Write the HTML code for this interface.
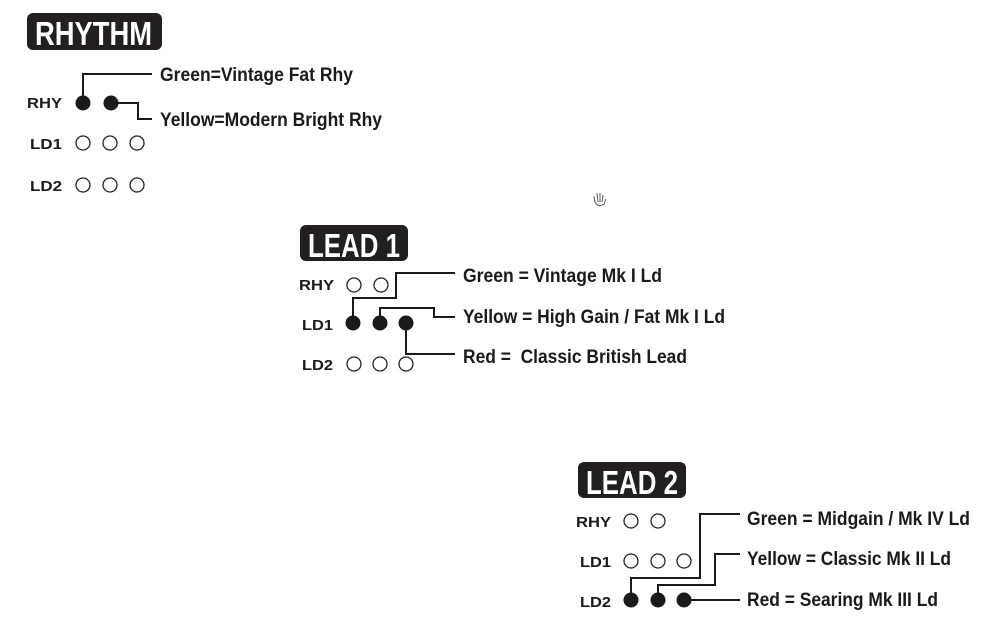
<!DOCTYPE html>
<html><head><meta charset="utf-8"><style>
html,body{margin:0;padding:0;background:#fff;}
svg{display:block;}
text{font-family:"Liberation Sans",sans-serif;font-weight:bold;fill:#1a1a1a;}
.b{fill:#fff;font-size:33px;}
.l{font-size:15px;}
.t{font-size:19px;}
.o{fill:#fff;stroke:#222;stroke-width:1.3;}
.f{fill:#1a1a1a;}
.w{fill:none;stroke:#1a1a1a;stroke-width:2;}
</style></head><body>
<svg width="1000" height="636" viewBox="0 0 1000 636" xmlns="http://www.w3.org/2000/svg">
<!-- RHYTHM -->
<rect x="27" y="13" width="135" height="37" rx="6" fill="#231f20"/>
<text class="b" x="35" y="45" textLength="117" lengthAdjust="spacingAndGlyphs">RHYTHM</text>
<text class="l" x="27" y="108" textLength="35" lengthAdjust="spacingAndGlyphs">RHY</text>
<text class="l" x="30" y="149" textLength="32" lengthAdjust="spacingAndGlyphs">LD1</text>
<text class="l" x="30" y="191" textLength="32" lengthAdjust="spacingAndGlyphs">LD2</text>
<path class="w" d="M83 103 V74 H152"/>
<path class="w" d="M111 103 H138 V119 H152"/>
<circle class="f" cx="83" cy="103" r="7.5"/>
<circle class="f" cx="111" cy="103" r="7.5"/>
<circle class="o" cx="83" cy="143" r="7"/><circle class="o" cx="110" cy="143" r="7"/><circle class="o" cx="137" cy="143" r="7"/>
<circle class="o" cx="83" cy="185" r="7"/><circle class="o" cx="110" cy="185" r="7"/><circle class="o" cx="137" cy="185" r="7"/>
<text class="t" x="160" y="81" textLength="193" lengthAdjust="spacingAndGlyphs">Green=Vintage Fat Rhy</text>
<text class="t" x="160" y="126" textLength="222" lengthAdjust="spacingAndGlyphs">Yellow=Modern Bright Rhy</text>
<path d="M594 196 l1 6 M597 193 l1 9 M600 193 v9 M603 195 l-1 7 M606 199 l-2 5 M595 202 q3 6 9 2" fill="none" stroke="#555" stroke-width="1"/>
<!-- LEAD 1 -->
<rect x="300" y="225" width="108" height="36" rx="6" fill="#231f20"/>
<text class="b" x="308" y="257" textLength="92" lengthAdjust="spacingAndGlyphs">LEAD 1</text>
<text class="l" x="299" y="290" textLength="35" lengthAdjust="spacingAndGlyphs">RHY</text>
<text class="l" x="302" y="330" textLength="31" lengthAdjust="spacingAndGlyphs">LD1</text>
<text class="l" x="302" y="370" textLength="31" lengthAdjust="spacingAndGlyphs">LD2</text>
<circle class="o" cx="354" cy="285" r="7"/><circle class="o" cx="381" cy="285" r="7"/>
<path class="w" d="M353 323 V298 H396 V273 H455"/>
<path class="w" d="M380 323 V308 H434 V317 H455"/>
<path class="w" d="M406 323 V354 H455"/>
<circle class="f" cx="353" cy="323" r="7.5"/><circle class="f" cx="380" cy="323" r="7.5"/><circle class="f" cx="406" cy="323" r="7.5"/>
<circle class="o" cx="354" cy="364" r="7"/><circle class="o" cx="380" cy="364" r="7"/><circle class="o" cx="406" cy="364" r="7"/>
<text class="t" x="463" y="282" textLength="199" lengthAdjust="spacingAndGlyphs">Green = Vintage Mk I Ld</text>
<text class="t" x="463" y="323" textLength="262" lengthAdjust="spacingAndGlyphs">Yellow = High Gain / Fat Mk I Ld</text>
<text class="t" x="463" y="363" textLength="224" lengthAdjust="spacingAndGlyphs" xml:space="preserve">Red =  Classic British Lead</text>
<!-- LEAD 2 -->
<rect x="578" y="462" width="108" height="36" rx="6" fill="#231f20"/>
<text class="b" x="586" y="494" textLength="92" lengthAdjust="spacingAndGlyphs">LEAD 2</text>
<text class="l" x="576" y="527" textLength="35" lengthAdjust="spacingAndGlyphs">RHY</text>
<text class="l" x="580" y="567" textLength="31" lengthAdjust="spacingAndGlyphs">LD1</text>
<text class="l" x="580" y="607" textLength="31" lengthAdjust="spacingAndGlyphs">LD2</text>
<circle class="o" cx="631" cy="521" r="7"/><circle class="o" cx="658" cy="521" r="7"/>
<circle class="o" cx="631" cy="561" r="7"/><circle class="o" cx="658" cy="561" r="7"/><circle class="o" cx="684" cy="561" r="7"/>
<path class="w" d="M631 600 V578 H700 V514 H740"/>
<path class="w" d="M658 600 V585 H715 V554 H740"/>
<path class="w" d="M684 600 H740"/>
<circle class="f" cx="631" cy="600" r="7.5"/><circle class="f" cx="658" cy="600" r="7.5"/><circle class="f" cx="684" cy="600" r="7.5"/>
<text class="t" x="747" y="525" textLength="223" lengthAdjust="spacingAndGlyphs">Green = Midgain / Mk IV Ld</text>
<text class="t" x="747" y="565" textLength="204" lengthAdjust="spacingAndGlyphs">Yellow = Classic Mk II Ld</text>
<text class="t" x="747" y="606" textLength="191" lengthAdjust="spacingAndGlyphs">Red = Searing Mk III Ld</text>
</svg>
</body></html>
